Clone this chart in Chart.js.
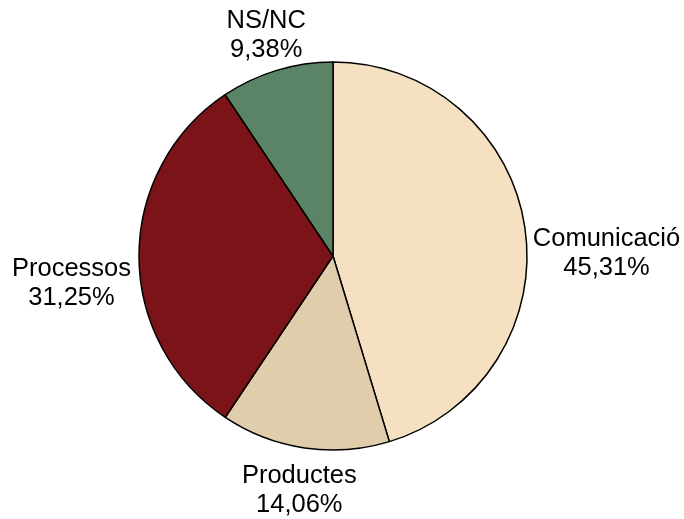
<!DOCTYPE html>
<html>
<head>
<meta charset="utf-8">
<script src="https://cdn.jsdelivr.net/npm/chart.js@4"></script>
<style>
  html, body { margin: 0; padding: 0; background: #fff; }
  #wrap { width: 684px; height: 519px; position: relative; }
</style>
</head>
<body>
<div id="wrap"><canvas id="pieChart"></canvas></div>
<script>
const categories = ["Comunicació", "Productes", "Processos", "NS/NC"];
const percentages = [45.31, 14.06, 31.25, 9.38];
const sliceColors = ["#F5E1C1", "#E0CDAB", "#7B1419", "#5B8467"];

// labels outside the pie: name on one line, value below, centred in the block
const outsideLabels = {
  id: "outsideLabels",
  afterDatasetsDraw(chart) {
    const ctx = chart.ctx;
    const meta = chart.getDatasetMeta(0);
    ctx.save();
    ctx.font = "25.5px 'Liberation Sans', Arial, sans-serif";
    ctx.fillStyle = "#000";
    ctx.textAlign = "center";
    ctx.textBaseline = "middle";
    const lineH = 29;
    meta.data.forEach((arc, i) => {
      const mid = (arc.startAngle + arc.endAngle) / 2;
      const r = arc.outerRadius + 8;
      const c = Math.cos(mid);
      const s = Math.sin(mid);
      const x = arc.x + c * r;
      const y = arc.y + s * r;
      const lines = [categories[i], percentages[i].toFixed(2).replace(".", ",") + "%"];
      const w = Math.max(...lines.map((t) => ctx.measureText(t).width));
      let cx = x + c * 28;
      if (c > 0.5) cx = x + w / 2;
      else if (c < -0.5) cx = x - w / 2;
      let top = y - 2;
      if (s < -0.5) top = y - lines.length * lineH + 2;
      else if (s > 0.5) top = y + 6;
      lines.forEach((t, k) => {
        ctx.fillText(t, cx, top + lineH * k + lineH / 2);
      });
    });
    ctx.restore();
  },
};

new Chart(document.getElementById("pieChart"), {
  type: "pie",
  data: {
    labels: categories,
    datasets: [
      {
        data: percentages,
        backgroundColor: sliceColors,
        borderColor: "#000",
        borderWidth: 1.5,
        radius: 194,
      },
    ],
  },
  options: {
    responsive: true,
    maintainAspectRatio: false,
    animation: false,
    layout: { padding: { left: 40, right: 58, top: 60, bottom: 67 } },
    plugins: {
      legend: { display: false },
      tooltip: { enabled: false },
    },
  },
  plugins: [outsideLabels],
});
</script>
</body>
</html>
